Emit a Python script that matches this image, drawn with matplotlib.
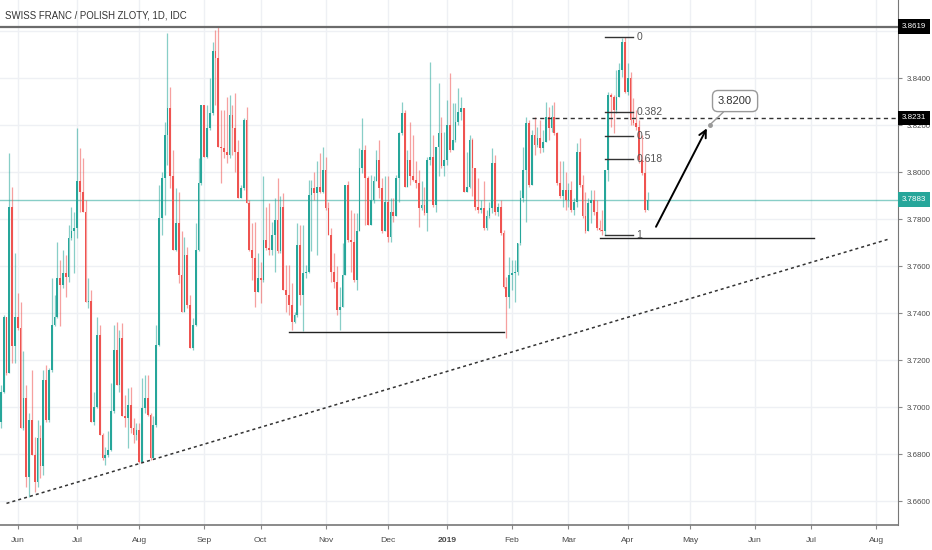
"""
CHF/PLN daily candles with hand-drawn analysis lines (TradingView style).
"""

import numpy as np
import pandas as pd
import matplotlib
matplotlib.use("Agg")
import matplotlib.pyplot as plt
from matplotlib import transforms, font_manager

TITLE = "SWISS FRANC / POLISH ZLOTY, 1D, IDC"
START_DATE = "2018-05-24"
END_DATE = "2019-08-30"

first_open = 3.6938

closes = [
    3.7066, 3.7385, 3.7144, 3.7853, 3.7258, 3.7385, 3.7336, 3.6910, 3.7038, 3.6704,
    3.6945, 3.6796, 3.6683, 3.6867, 3.6747, 3.7116, 3.6945, 3.7158, 3.7350, 3.7385,
    3.7548, 3.7520, 3.7569, 3.7555, 3.7718, 3.7747, 3.7761, 3.7960, 3.7917, 3.7832,
    3.7448, 3.7451, 3.6938, 3.7002, 3.7307, 3.6881, 3.6782, 3.6796, 3.6818, 3.6981,
    3.7244, 3.7095, 3.7293, 3.6960, 3.6953, 3.7009, 3.6910, 3.6881, 3.6903, 3.6768,
    3.6995, 3.7038, 3.6967, 3.6782, 3.6924, 3.7265, 3.7804, 3.7974, 3.8157, 3.8271,
    3.7981, 3.7669, 3.7782, 3.7562, 3.7406, 3.7647, 3.7434, 3.7251, 3.7350, 3.7669,
    3.7953, 3.8285, 3.8065, 3.8186, 3.8250, 3.8513, 3.8484, 3.8108, 3.8101, 3.8087,
    3.8072, 3.8243, 3.8186, 3.8087, 3.7889, 3.7931, 3.8221, 3.7867, 3.7669, 3.7633,
    3.7491, 3.7548, 3.7541, 3.7711, 3.7676, 3.7669, 3.7732, 3.7796, 3.7662, 3.7853,
    3.7498, 3.7477, 3.7434, 3.7363, 3.7392, 3.7690, 3.7477, 3.7569, 3.7576, 3.7903,
    3.7931, 3.7910, 3.7938, 3.7917, 3.8009, 3.7846, 3.7732, 3.7576, 3.7534, 3.7413,
    3.7427, 3.7562, 3.7946, 3.7711, 3.7704, 3.7541, 3.7747, 3.8016, 3.8094, 3.7974,
    3.7775, 3.7882, 3.7960, 3.8052, 3.7931, 3.7747, 3.7874, 3.7725, 3.7832, 3.7811,
    3.7974, 3.8165, 3.8250, 3.7938, 3.8052, 3.7981, 3.7967, 3.7953, 3.7846, 3.7860,
    3.7825, 3.8052, 3.8065, 3.7860, 3.8108, 3.8165, 3.8024, 3.8052, 3.8200, 3.8094,
    3.8136, 3.8214, 3.8257, 3.8271, 3.7917, 3.7938, 3.8136, 3.8016, 3.7853, 3.7839,
    3.7846, 3.7761, 3.7811, 3.7846, 3.8038, 3.7832, 3.7853, 3.7740, 3.7512, 3.7470,
    3.7562, 3.7569, 3.7576, 3.7697, 3.7889, 3.8009, 3.8207, 3.7946, 3.8157, 3.8115,
    3.8143, 3.8101, 3.8129, 3.8236, 3.8186, 3.8236, 3.8165, 3.7953, 3.7896, 3.7924,
    3.7882, 3.7924, 3.7839, 3.7874, 3.8087, 3.7946, 3.7811, 3.7747, 3.7867, 3.7882,
    3.7832, 3.7761, 3.7754, 3.7747, 3.8009, 3.8328, 3.8321, 3.8264, 3.8321, 3.8434,
    3.8555, 3.8342, 3.8399, 3.8221, 3.8207, 3.8193, 3.8052, 3.7995, 3.7839, 3.7883,
]

highs = [
    3.7095, 3.7392, 3.7363, 3.8079, 3.7938, 3.7654, 3.7484, 3.7448, 3.7237, 3.7095,
    3.6974, 3.7158, 3.6874, 3.6945, 3.6924, 3.7158, 3.7180, 3.7165, 3.7548, 3.7477,
    3.7704, 3.7626, 3.7669, 3.7647, 3.7775, 3.7853, 3.7832, 3.8186, 3.8101, 3.8059,
    3.7882, 3.7548, 3.7498, 3.7066, 3.7385, 3.7350, 3.6889, 3.6832, 3.6896, 3.7102,
    3.7350, 3.7363, 3.7329, 3.7356, 3.7052, 3.7080, 3.7087, 3.6953, 3.6931, 3.6931,
    3.7123, 3.7137, 3.7137, 3.6974, 3.6960, 3.7350, 3.7946, 3.8002, 3.8214, 3.8590,
    3.8363, 3.8094, 3.7931, 3.7917, 3.7747, 3.7725, 3.7683, 3.7477, 3.7378, 3.7782,
    3.8059, 3.8285, 3.8285, 3.8285, 3.8399, 3.8555, 3.8605, 3.8619, 3.8264, 3.8264,
    3.8321, 3.8328, 3.8285, 3.8335, 3.8136, 3.7946, 3.8229, 3.8278, 3.7882, 3.7782,
    3.7789, 3.7654, 3.7619, 3.7981, 3.7853, 3.7867, 3.7789, 3.7889, 3.7974, 3.7896,
    3.7910, 3.7605, 3.7605, 3.7527, 3.7406, 3.7782, 3.7775, 3.7775, 3.7605, 3.7967,
    3.7967, 3.8002, 3.8045, 3.8079, 3.8108, 3.8065, 3.7874, 3.7761, 3.7654, 3.7598,
    3.7512, 3.7697, 3.7946, 3.7960, 3.7839, 3.7825, 3.7825, 3.8101, 3.8229, 3.8115,
    3.7981, 3.7988, 3.7981, 3.8094, 3.8136, 3.7974, 3.7981, 3.7981, 3.7889, 3.7889,
    3.7988, 3.8172, 3.8299, 3.8264, 3.8094, 3.8214, 3.8157, 3.8045, 3.8009, 3.7960,
    3.7938, 3.8065, 3.8470, 3.8157, 3.8108, 3.8378, 3.8236, 3.8172, 3.8307, 3.8420,
    3.8292, 3.8292, 3.8356, 3.8321, 3.8264, 3.8087, 3.8157, 3.8143, 3.7974, 3.7974,
    3.7882, 3.7960, 3.7839, 3.7874, 3.8101, 3.8072, 3.7867, 3.7882, 3.7754, 3.7555,
    3.7640, 3.7626, 3.7626, 3.7697, 3.7924, 3.8108, 3.8236, 3.8221, 3.8179, 3.8236,
    3.8193, 3.8221, 3.8179, 3.8299, 3.8278, 3.8285, 3.8299, 3.8172, 3.8045, 3.8045,
    3.8002, 3.7953, 3.7960, 3.7889, 3.8122, 3.8143, 3.7988, 3.7917, 3.7889, 3.7924,
    3.7924, 3.7882, 3.7796, 3.7839, 3.8009, 3.8342, 3.8335, 3.8328, 3.8434, 3.8463,
    3.8569, 3.8576, 3.8463, 3.8427, 3.8314, 3.8264, 3.8221, 3.8157, 3.8059, 3.7917,
]

lows = [
    3.6910, 3.7059, 3.7137, 3.7187, 3.7187, 3.7187, 3.7329, 3.6910, 3.6903, 3.6661,
    3.6619, 3.6796, 3.6640, 3.6661, 3.6697, 3.6711, 3.6938, 3.6938, 3.7151, 3.7343,
    3.7378, 3.7343, 3.7505, 3.7470, 3.7534, 3.7711, 3.7569, 3.7718, 3.7832, 3.7832,
    3.7448, 3.7420, 3.6938, 3.6924, 3.6995, 3.6881, 3.6775, 3.6754, 3.6789, 3.6811,
    3.6974, 3.7095, 3.7066, 3.6960, 3.6917, 3.6825, 3.6889, 3.6846, 3.6860, 3.6761,
    3.6768, 3.6974, 3.6960, 3.6775, 3.6782, 3.6917, 3.7258, 3.7732, 3.7818, 3.8031,
    3.7931, 3.7669, 3.7662, 3.7527, 3.7406, 3.7406, 3.7420, 3.7251, 3.7244, 3.7343,
    3.7662, 3.7946, 3.8065, 3.8059, 3.8179, 3.8243, 3.8285, 3.8108, 3.7953, 3.8059,
    3.8038, 3.8059, 3.8072, 3.8002, 3.7889, 3.7910, 3.7924, 3.7867, 3.7662, 3.7541,
    3.7427, 3.7491, 3.7441, 3.7534, 3.7669, 3.7647, 3.7647, 3.7576, 3.7654, 3.7654,
    3.7498, 3.7406, 3.7392, 3.7329, 3.7356, 3.7385, 3.7434, 3.7322, 3.7548, 3.7569,
    3.7662, 3.7882, 3.7647, 3.7910, 3.7910, 3.7839, 3.7732, 3.7534, 3.7505, 3.7392,
    3.7329, 3.7434, 3.7576, 3.7704, 3.7576, 3.7534, 3.7498, 3.7754, 3.7995, 3.7775,
    3.7775, 3.7818, 3.7867, 3.7967, 3.7889, 3.7740, 3.7747, 3.7704, 3.7704, 3.7789,
    3.7825, 3.7874, 3.8157, 3.7938, 3.7960, 3.7946, 3.7960, 3.7931, 3.7768, 3.7839,
    3.7818, 3.7747, 3.8031, 3.7853, 3.7832, 3.7981, 3.8016, 3.7981, 3.8031, 3.8087,
    3.8122, 3.8129, 3.8200, 3.8221, 3.7917, 3.7917, 3.7931, 3.7896, 3.7839, 3.7825,
    3.7825, 3.7754, 3.7754, 3.7804, 3.7825, 3.7818, 3.7811, 3.7732, 3.7505, 3.7293,
    3.7420, 3.7498, 3.7448, 3.7562, 3.7690, 3.7874, 3.7789, 3.7938, 3.8052, 3.8072,
    3.8108, 3.8079, 3.8087, 3.8129, 3.8136, 3.8172, 3.8157, 3.7946, 3.7889, 3.7853,
    3.7839, 3.7853, 3.7832, 3.7818, 3.7853, 3.7938, 3.7804, 3.7740, 3.7775, 3.7782,
    3.7818, 3.7754, 3.7747, 3.7732, 3.7732, 3.7960, 3.8193, 3.8165, 3.8250, 3.8321,
    3.8406, 3.8335, 3.8328, 3.8200, 3.8200, 3.8179, 3.8038, 3.7988, 3.7832, 3.7846,
]

month_labels = ["Jun", "Jul", "Aug", "Sep", "Oct", "Nov", "Dec", "2019",
                "Feb", "Mar", "Apr", "May", "Jun", "Jul", "Aug"]
price_ticks = [3.66, 3.68, 3.70, 3.72, 3.74, 3.76, 3.78, 3.80, 3.82, 3.84, 3.86]

# drawings
sep_high = 3.8619
resistance = 3.8231
resistance_from = "2019-02-12"
nov_support = 3.7319
nov_support_dates = ["2018-10-15", "2019-01-29"]
mar_support = 3.7719
mar_support_dates = ["2019-03-18", "2019-07-02"]
trend_dates = ["2018-05-28", "2019-08-07"]
trend_prices = [3.6590, 3.7713]
fib_high = 3.8576
fib_low = 3.7732
fib_levels = [0, 0.382, 0.5, 0.618, 1]
fib_labels = ["0", "0.382", "0.5", "0.618", "1"]
fib_dates = ["2019-03-20", "2019-04-03", "2019-04-04"]
arrow_dates = ["2019-04-15", "2019-05-09"]
arrow_prices = [3.7767, 3.8186]
target = 3.8200
target_dates = ["2019-05-10", "2019-05-23"]
target_label_price = 3.8302

UP = "#26a69a"
DOWN = "#ef5350"
GRID = "#eef0f4"
TXT = "#4a4a4a"


def pick_font(names):
    for n in names:
        try:
            font_manager.findfont(font_manager.FontProperties(family=n), fallback_to_default=False)
            return n, True
        except ValueError:
            continue
    return "Liberation Sans", False


NARROW, HAS_NARROW = pick_font(["Liberation Sans Narrow", "Arial Narrow"])
SCALE_FS = 6.3 if HAS_NARROW else 5.7

days = pd.bdate_range(START_DATE, END_DATE)


def bidx(d):
    return int(days.get_loc(pd.Timestamp(d)))


c = np.array(closes)
h = np.array(highs)
l = np.array(lows)
o = np.concatenate([[first_open], c[:-1]])
x = np.arange(len(c))
up = c >= o
cols = np.where(up, UP, DOWN)

fig = plt.figure(figsize=(9.32, 5.5), dpi=100)
ax = fig.add_axes([0, 25 / 550, 898 / 932, 525 / 550])
ax.set_xlim(-0.3, 317.7)
ax.set_ylim(3.6498, 3.8732)
ax.set_axisbelow(True)

# candles
ax.vlines(x, np.minimum(l, np.minimum(o, c)), np.maximum(h, np.maximum(o, c)),
          colors=cols, linewidth=0.9, alpha=0.55, zorder=2)
ax.bar(x, np.maximum(np.abs(c - o), 0.0003), bottom=np.minimum(o, c), width=0.62,
       color=cols, linewidth=0, zorder=3)

# month ticks
s = days.to_series()
firsts = s.groupby(days.to_period("M")).first()
firsts = firsts[firsts.index >= pd.Period("2018-06", "M")]
mpos = [bidx(d) for d in firsts.values[:len(month_labels)]]
ax.set_xticks(mpos)
ax.set_xticklabels(month_labels, family=NARROW, fontsize=SCALE_FS + 0.4)
for t in ax.get_xticklabels():
    if t.get_text() == "2019":
        t.set_fontweight("bold")
        t.set_color("#222222")

ax.yaxis.tick_right()
ax.set_yticks(price_ticks)
ax.set_yticklabels([f"{p:.4f}" for p in price_ticks], family=NARROW, fontsize=SCALE_FS)
ax.tick_params(axis="both", colors="#888888", labelcolor=TXT, length=3, width=0.8)
ax.tick_params(axis="y", pad=3)
ax.tick_params(axis="x", pad=6)
ax.grid(True, color=GRID, linewidth=1)
for side in ("top", "left"):
    ax.spines[side].set_visible(False)
ax.spines["right"].set_color("#777777")
ax.spines["bottom"].set_color("#777777")
ax.spines["bottom"].set_linewidth(1.2)

# horizontal lines
ax.axhline(sep_high, color="#6b6b6b", linewidth=1.6, zorder=4)
ax.axhline(closes[-1], color=UP, linewidth=1, alpha=0.55, zorder=1)
ax.plot([bidx(resistance_from), 317.7], [resistance, resistance], color="#333333",
        linewidth=1, linestyle=(0, (3, 2.5)), zorder=4)
ax.plot([bidx(d) for d in nov_support_dates], [nov_support, nov_support], color="#222222",
        linewidth=1, zorder=4)
ax.plot([bidx(d) for d in mar_support_dates], [mar_support, mar_support], color="#222222",
        linewidth=1, zorder=4)
ax.plot([bidx(d) for d in trend_dates], trend_prices, color="#333333", linewidth=1.1,
        linestyle=(0, (2, 2)), zorder=4)

# fib retracement
f0, f1, flab = [bidx(d) for d in fib_dates]
for lev, lab in zip(fib_levels, fib_labels):
    p = fib_high - lev * (fib_high - fib_low)
    ax.plot([f0, f1], [p, p], color="#333333", linewidth=1, zorder=4)
    ax.text(flab, p, lab, ha="left", va="center", family="Liberation Sans", fontsize=7.5,
            color="#555555", zorder=5)

# projection arrow and target callout
ax.annotate("", xy=(bidx(arrow_dates[1]), arrow_prices[1]),
            xytext=(bidx(arrow_dates[0]), arrow_prices[0]),
            arrowprops=dict(arrowstyle="->", color="black", lw=1.4, mutation_scale=13,
                            shrinkA=0, shrinkB=0), zorder=6)
ax.plot(bidx(target_dates[0]), target, marker="o", markersize=2.5, color="#999999", zorder=6)
ax.annotate(f"{target:.4f}", xy=(bidx(target_dates[0]), target),
            xytext=(bidx(target_dates[1]), target_label_price),
            ha="center", va="center", family="Liberation Sans", fontsize=8, color="#333333",
            bbox=dict(boxstyle="round,pad=0.5", fc="white", ec="#999999", lw=1),
            arrowprops=dict(arrowstyle="-", color="#999999", lw=1, shrinkA=0, shrinkB=0),
            zorder=6)

# price scale labels
trans = transforms.blended_transform_factory(ax.transAxes, ax.transData)
for price, bg in [(sep_high, "black"), (resistance, "black"), (closes[-1], UP)]:
    ax.text(1.0 + 4 / 898, price, f"{price:.4f}", transform=trans, ha="left", va="center",
            family=NARROW, fontsize=SCALE_FS, color="white", clip_on=False, zorder=10,
            bbox=dict(boxstyle="square,pad=0.45", fc=bg, ec="none"))

fig.text(5 / 932, 1 - 15 / 550, TITLE, ha="left", va="center", family=NARROW,
         fontsize=7.6 if HAS_NARROW else 6.9, color="#333333")

fig.savefig("out.png", dpi=100)
